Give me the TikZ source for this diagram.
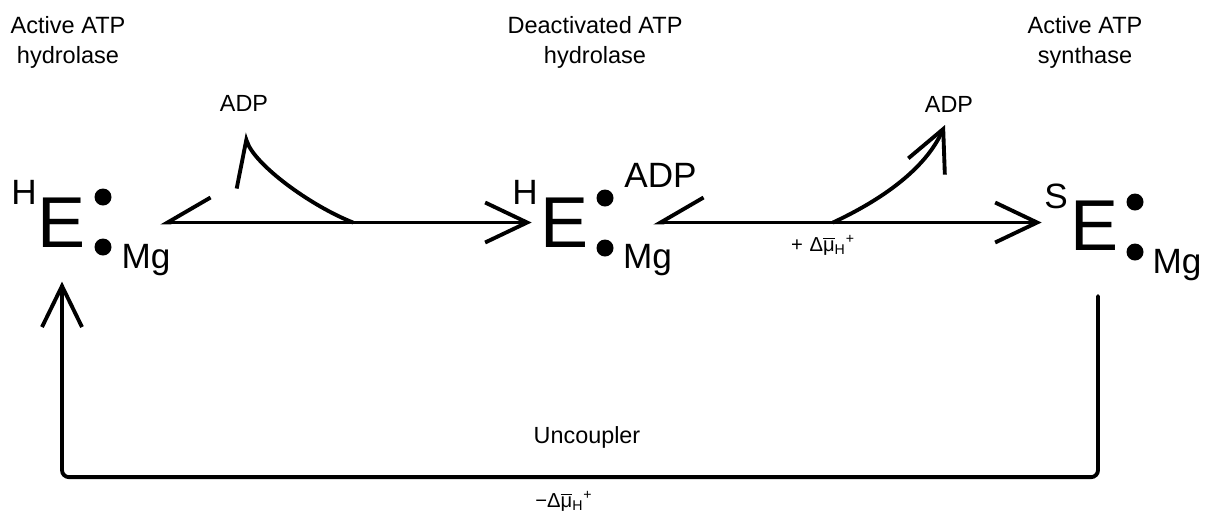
\documentclass[tikz,border=0pt]{standalone}
\usepackage{fontspec}
\setmainfont{Liberation Sans}
\usepackage{tikz}
\usetikzlibrary{arrows.meta, calc}

\begin{document}
\begin{tikzpicture}[
    enz/.style={inner sep=0pt, font=\fontsize{41}{41}\selectfont},
    tag/.style={inner sep=0pt, font=\fontsize{20}{20}\selectfont},
    bead/.style={circle, fill=black, inner sep=0pt, minimum size=0.34cm},
    hdr/.style={inner sep=0pt, anchor=north, align=center, font=\fontsize{13.4}{17.1}\selectfont},
    lbl/.style={inner sep=0pt, anchor=base, font=\fontsize{13.3}{16}\selectfont},
    dmu/.style={inner sep=0pt, anchor=base, font=\fontsize{11.5}{13}\selectfont},
    rxn/.style={line width=2.2pt, line cap=round,
                {Straight Barb[right, length=0.86cm, width=1cm]}-{Straight Barb[length=0.84cm, width=0.8cm]}},
    arrow/.style={line width=2.2pt, line cap=round, -{Straight Barb[length=0.82cm, width=0.8cm]}},
    hook/.style={line width=2.2pt, line cap=round, -{Straight Barb[left, length=0.86cm, width=1cm]}}
]
    \useasboundingbox (0,0) rectangle (24.2,-10.38);

    % Headers
    \node[hdr] (t1) at (1.36,-0.33) {Active ATP\\hydrolase};
    \node[hdr] (t2) at (11.9,-0.33) {Deactivated ATP\\hydrolase};
    \node[hdr] (t3) at (21.7,-0.33) {Active ATP\\synthase};

    % Active ATP hydrolase
    \node[tag] (h1) at (0.48,-3.85) {H};
    \node[enz] (e1) at (1.24,-4.45) {E};
    \node[bead] (a1) at (2.06,-3.94) {};
    \node[bead] (b1) at (2.06,-4.94) {};
    \node[tag, anchor=base] (mg1) at (2.92,-5.36) {Mg};

    % Deactivated ATP hydrolase
    \node[tag] (h2) at (10.5,-3.85) {H};
    \node[enz] (e2) at (11.3,-4.45) {E};
    \node[bead] (a2) at (12.1,-3.96) {};
    \node[bead] (b2) at (12.1,-4.96) {};
    \node[tag, anchor=base] (adp2) at (13.21,-3.74) {ADP};
    \node[tag, anchor=base] (mg2) at (12.95,-5.36) {Mg};

    % Active ATP synthase
    \node[tag] (s3) at (21.12,-3.93) {S};
    \node[enz] (e3) at (21.9,-4.52) {E};
    \node[bead] (a3) at (22.7,-4.04) {};
    \node[bead] (b3) at (22.7,-5.04) {};
    \node[tag, anchor=base] (mg3) at (23.54,-5.46) {Mg};

    % Small labels
    \node[lbl] (adp1) at (4.88,-2.22) {ADP};
    \node[lbl] (adp3) at (18.98,-2.24) {ADP};
    \node[dmu] (dmu1) at (16.46,-5.02) {+\,\,Δ$\overline{\hbox{μ}}$\textsubscript{H}\textsuperscript{+}};
    \node[lbl] (unc) at (11.74,-8.86) {Uncoupler};
    \node[dmu] (dmu2) at (11.28,-10.14) {−Δ$\overline{\hbox{μ}}$\textsubscript{H}\textsuperscript{+}};

    % Branch points on the reaction lines
    \coordinate (j1) at (7.06,-4.45);
    \coordinate (j2) at (16.66,-4.45);

    % Reactions
    \draw[rxn] ([xshift=1.48cm]e1.east) -- ([xshift=-0.18cm]e2.west);
    \draw[rxn] ([xshift=1.28cm]e2.east) -- ([xshift=-0.58cm]e3.west |- e2);
    \draw[hook] (j1) .. controls +(-0.86,0.34) and +(0.22,-0.64) .. ([yshift=-0.44cm]adp1.base);
    \draw[arrow] (j2) .. controls +(0.94,0.44) and +(-0.4,-0.9) .. ([xshift=-0.08cm, yshift=-0.26cm]adp3.base);

    % Uncoupler loop
    \draw[arrow, rounded corners=0.14cm] ([xshift=0.06cm, yshift=-0.9cm]e3.south)
        -- ++(0,-3.62) -| ([yshift=-0.68cm]e1.south);
\end{tikzpicture}
\end{document}
